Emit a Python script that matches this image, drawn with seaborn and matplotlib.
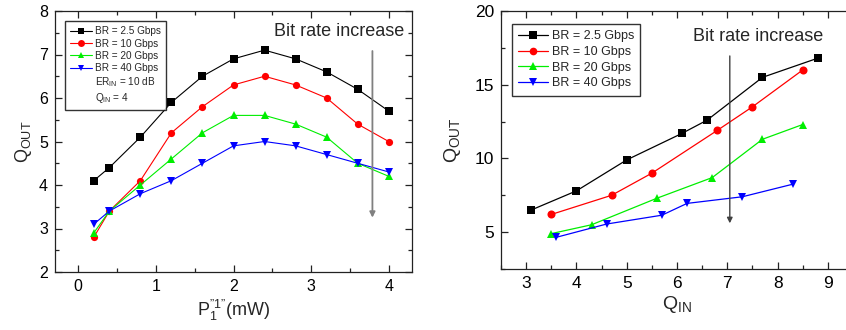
import numpy as np
import pandas as pd
import matplotlib
matplotlib.use("Agg")
import matplotlib.pyplot as plt
import seaborn as sns
from matplotlib.lines import Line2D
from matplotlib.ticker import MultipleLocator

sns.set_theme(style="white")
plt.rcParams['font.family'] = ['Liberation Sans', 'DejaVu Sans']
plt.rcParams['mathtext.fontset'] = 'custom'
plt.rcParams['mathtext.rm'] = 'Liberation Sans'
plt.rcParams['mathtext.it'] = 'Liberation Sans'

series_labels = ["BR = 2.5 Gbps", "BR = 10 Gbps", "BR = 20 Gbps", "BR = 40 Gbps"]
colors = ["#000000", "#ff0000", "#00ee00", "#0000ff"]
markers = ["s", "o", "^", "v"]

# Left panel: Q_OUT vs P1 "1" (mW)
p1 = [0.2, 0.4, 0.8, 1.2, 1.6, 2.0, 2.4, 2.8, 3.2, 3.6, 4.0]
left_br25 = [4.1, 4.4, 5.1, 5.9, 6.5, 6.9, 7.1, 6.9, 6.6, 6.2, 5.7]
left_br10 = [2.8, 3.4, 4.1, 5.2, 5.8, 6.3, 6.5, 6.3, 6.0, 5.4, 5.0]
left_br20 = [2.9, 3.4, 4.0, 4.6, 5.2, 5.6, 5.6, 5.4, 5.1, 4.5, 4.2]
left_br40 = [3.1, 3.4, 3.8, 4.1, 4.5, 4.9, 5.0, 4.9, 4.7, 4.5, 4.3]

# Right panel: Q_OUT vs Q_IN
qin_br25 = [3.1, 4.0, 5.0, 6.1, 6.6, 7.7, 8.8]
qout_br25 = [6.5, 7.8, 9.9, 11.7, 12.6, 15.5, 16.8]
qin_br10 = [3.5, 4.7, 5.5, 6.8, 7.5, 8.5]
qout_br10 = [6.2, 7.5, 9.0, 11.9, 13.5, 16.0]
qin_br20 = [3.5, 4.3, 5.6, 6.7, 7.7, 8.5]
qout_br20 = [4.9, 5.5, 7.3, 8.7, 11.3, 12.3]
qin_br40 = [3.6, 4.6, 5.7, 6.2, 7.3, 8.3]
qout_br40 = [4.65, 5.55, 6.15, 6.95, 7.4, 8.25]

fig = plt.figure(figsize=(8.46, 3.3), dpi=100)
ax1 = fig.add_axes([55/846, 1 - 272/330, 357/846, 261/330])
ax2 = fig.add_axes([501/846, 1 - 269/330, 352/846, 258/330])

def style_axes(ax, fs):
    for s in ax.spines.values():
        s.set_color("#222222")
        s.set_linewidth(0.9)
        s.set_visible(True)
    ax.tick_params(which="both", direction="in", top=True, right=True,
                   bottom=True, left=True, colors="#222222", labelcolor="black",
                   labelsize=fs)
    ax.tick_params(which="major", length=5, width=0.9, pad=5)
    ax.tick_params(which="minor", length=3, width=0.9)

left_ys = [left_br25, left_br10, left_br20, left_br40]
for lab, y, c, m in zip(series_labels, left_ys, colors, markers):
    df = pd.DataFrame({"x": p1, "y": y})
    sns.lineplot(data=df, x="x", y="y", ax=ax1, color=c, marker=m,
                 markersize=5.2, markeredgewidth=0, linewidth=0.8,
                 sort=False, label=lab, legend=False)

right_xs = [qin_br25, qin_br10, qin_br20, qin_br40]
right_ys = [qout_br25, qout_br10, qout_br20, qout_br40]
for lab, x, y, c, m in zip(series_labels, right_xs, right_ys, colors, markers):
    df = pd.DataFrame({"x": x, "y": y})
    sns.lineplot(data=df, x="x", y="y", ax=ax2, color=c, marker=m,
                 markersize=5.8, markeredgewidth=0, linewidth=0.9,
                 sort=False, label=lab, legend=False)

# Left axes setup
ax1.set_xlim(-0.3, 4.3)
ax1.set_ylim(2, 8)
ax1.xaxis.set_major_locator(MultipleLocator(1))
ax1.xaxis.set_minor_locator(MultipleLocator(0.5))
ax1.yaxis.set_major_locator(MultipleLocator(1))
ax1.yaxis.set_minor_locator(MultipleLocator(0.5))
style_axes(ax1, 11.5)
ax1.set_xlabel('$\\mathregular{P_1^{\u201d1\u201d}}$(mW)', fontsize=13, labelpad=3)
ax1.set_ylabel(r'$\mathregular{Q_{OUT}}$', fontsize=13, labelpad=4)

ax1.annotate("", xy=(3.79, 3.25), xytext=(3.79, 7.08),
             arrowprops=dict(arrowstyle="-|>", color="#808080", lw=1.3,
                             mutation_scale=8, shrinkA=0, shrinkB=0))
ax1.text(2.52, 7.54, "Bit rate increase", fontsize=13, va="center", ha="left")

handles = [Line2D([0], [0], color=c, marker=m, markersize=5, markeredgewidth=0, lw=0.8)
           for c, m in zip(colors, markers)]
handles += [Line2D([], [], linestyle="none"), Line2D([], [], linestyle="none")]
labels_l = series_labels + [r'ER$_{\mathregular{IN}}$ = 10 dB', r'Q$_{\mathregular{IN}}$ = 4']
leg1 = ax1.legend(handles, labels_l, loc="upper left", bbox_to_anchor=(0.027, 0.96),
                  fontsize=7.2, frameon=True, fancybox=False, edgecolor="black",
                  handlelength=2.2, handletextpad=0.3, labelspacing=0.22,
                  borderpad=0.5, borderaxespad=0)
leg1.get_frame().set_linewidth(1.0)

# Right axes setup
ax2.set_xlim(2.5, 9.5)
ax2.set_ylim(2.5, 20)
ax2.xaxis.set_major_locator(MultipleLocator(1))
ax2.xaxis.set_minor_locator(MultipleLocator(0.5))
ax2.yaxis.set_major_locator(MultipleLocator(5))
ax2.yaxis.set_minor_locator(MultipleLocator(2.5))
style_axes(ax2, 12.5)
ax2.set_xlabel(r'$\mathregular{Q_{IN}}$', fontsize=14, labelpad=2)
ax2.set_ylabel(r'$\mathregular{Q_{OUT}}$', fontsize=14, labelpad=8)

ax2.annotate("", xy=(7.05, 5.6), xytext=(7.05, 16.95),
             arrowprops=dict(arrowstyle="-|>", color="#404040", lw=1.0,
                             mutation_scale=8, shrinkA=0, shrinkB=0))
ax2.text(6.32, 18.24, "Bit rate increase", fontsize=13, va="center", ha="left")

handles2 = [Line2D([0], [0], color=c, marker=m, markersize=5.5, markeredgewidth=0, lw=0.9)
            for c, m in zip(colors, markers)]
leg2 = ax2.legend(handles2, series_labels, loc="upper left", bbox_to_anchor=(0.03, 0.95),
                  fontsize=9, frameon=True, fancybox=False, edgecolor="black",
                  handlelength=2.4, handletextpad=0.3, labelspacing=0.3,
                  borderpad=0.5, borderaxespad=0)
leg2.get_frame().set_linewidth(1.0)

fig.savefig("out.png", dpi=100)
